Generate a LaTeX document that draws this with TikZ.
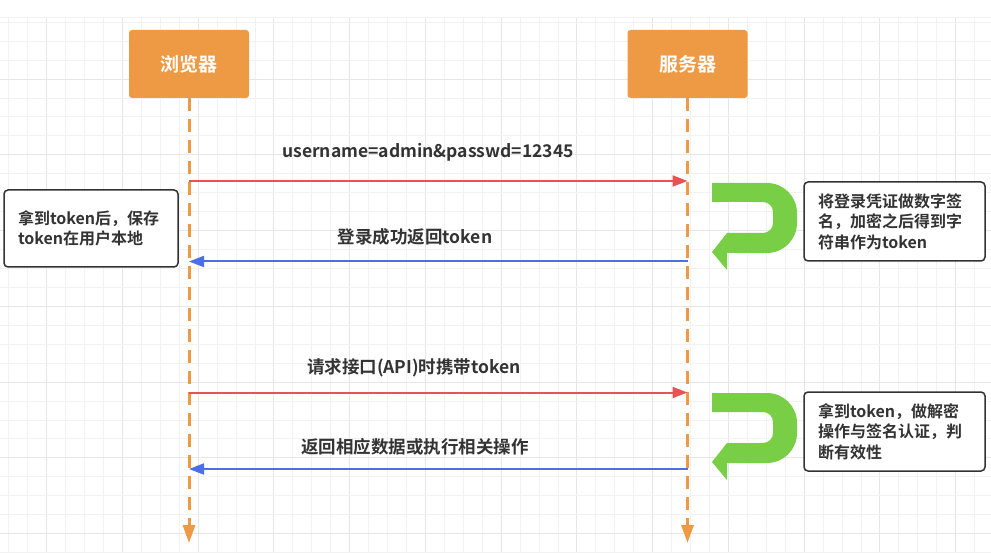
\documentclass[tikz,border=0pt]{standalone}
\usepackage{fontspec}
\setmainfont{Noto Sans CJK SC}[BoldFont={Noto Sans CJK SC Bold}]
\usetikzlibrary{arrows.meta}
\definecolor{orangeC}{HTML}{EE9A45}
\definecolor{redC}{HTML}{E85252}
\definecolor{blueC}{HTML}{4A6FE8}
\definecolor{greenC}{HTML}{78CE44}
\definecolor{textC}{HTML}{333333}
\definecolor{gridMinor}{HTML}{F2F2F2}
\definecolor{gridMajor}{HTML}{E6E6E6}
\begin{document}
\begin{tikzpicture}[x=1pt,y=-1pt,
  gminor/.style={draw=gridMinor,line width=0.8pt},
  gmajor/.style={draw=gridMajor,line width=0.9pt},
  actor/.style={fill=orangeC,rounded corners=3pt,minimum width=120pt,minimum height=68pt,
    text=white,font=\bfseries\fontsize{19}{22}\selectfont,inner sep=0pt},
  lifeline/.style={draw=orangeC,line width=3pt,dash pattern=on 13pt off 8pt,
    -{Triangle[length=18pt,width=12pt]}},
  req/.style={draw=redC,line width=2pt,-{Triangle[length=15pt,width=11pt]}},
  resp/.style={draw=blueC,line width=2pt,-{Triangle[length=15pt,width=11pt]}},
  lbl/.style={text=textC,font=\bfseries\fontsize{17.5}{20}\selectfont,inner sep=0pt},
  note/.style={draw=textC,line width=1.5pt,fill=white,rounded corners=4pt,
    text=textC,font=\bfseries\fontsize{16}{20.5}\selectfont,align=left,
    inner xsep=14pt,inner ysep=0pt},
  turn/.style={fill=greenC}
]
\fill[white] (0,0) rectangle (991,553);
\useasboundingbox (0,0) rectangle (991,553);
% grid
\foreach \i in {0,...,52}{
  \pgfmathsetmacro\xx{8.7+18.94*\i}
  \pgfmathtruncatemacro\m{mod(\i,4)}
  \ifnum\m=2 \draw[gmajor] (\xx,17) -- (\xx,553); \else \draw[gminor] (\xx,17) -- (\xx,553); \fi
}
\foreach \j in {0,...,28}{
  \pgfmathsetmacro\yy{22.2+18.94*\j}
  \pgfmathtruncatemacro\m{mod(\j,4)}
  \ifnum\m=3 \draw[gmajor] (0,\yy) -- (991,\yy); \else \draw[gminor] (0,\yy) -- (991,\yy); \fi
}
\draw[gminor] (0,17) -- (991,17);

% actors and lifelines
\node[actor] (browser) at (189,64) {浏览器};
\node[actor] (server) at (687.5,64) {服务器};
\coordinate (bEnd) at (189,543);
\coordinate (sEnd) at (687.5,543);
\draw[lifeline] (browser.south) -- (bEnd);
\draw[lifeline] (server.south) -- (sEnd);

% message endpoints
\coordinate (b1) at (189,181);   \coordinate (s1) at (687.5,181);
\coordinate (b2) at (189,261.5); \coordinate (s2) at (687.5,261.5);
\coordinate (b3) at (189,392.5); \coordinate (s3) at (687.5,392.5);
\coordinate (b4) at (189,469);   \coordinate (s4) at (687.5,469);

\draw[req] (b1) -- (s1);
\draw[resp] (s2) -- (b2);
\draw[req] (b3) -- (s3);
\draw[resp] (s4) -- (b4);

\node[lbl] (m1) at (428,152) {username=admin\&passwd=12345};
\node[lbl] (m2) at (415,237) {登录成功返回token};
\node[lbl] (m3) at (414,368) {请求接口(API)时携带token};
\node[lbl] (m4) at (415,447) {返回相应数据或执行相关操作};

% green u-turn arrows
\foreach \dy in {0,210}{
\begin{scope}[yshift=-\dy pt]
\fill[turn] (712,183) -- (767,183) arc[start angle=-90,end angle=0,radius=30]
  -- (797,223) arc[start angle=0,end angle=90,radius=30]
  -- (727,253) -- (727,270) -- (712,252) -- (727,233) -- (763,233)
  arc[start angle=90,end angle=0,radius=10] -- (773,212)
  arc[start angle=0,end angle=-90,radius=10] -- (712,202) -- cycle;
\end{scope}
}

% notes
\node[note,minimum width=174pt,minimum height=77pt,text width=146pt] (noteL) at (91,228.5)
  {拿到token后，保存\\token在用户本地};
\node[note,minimum width=181pt,minimum height=79pt,text width=153pt] (noteR1) at (894.5,221.5)
  {将登录凭证做数字签\\名，加密之后得到字\\符串作为token};
\node[note,minimum width=181pt,minimum height=79pt,text width=153pt] (noteR2) at (894.5,431.5)
  {拿到token，做解密\\操作与签名认证，判\\断有效性};
\end{tikzpicture}
\end{document}
